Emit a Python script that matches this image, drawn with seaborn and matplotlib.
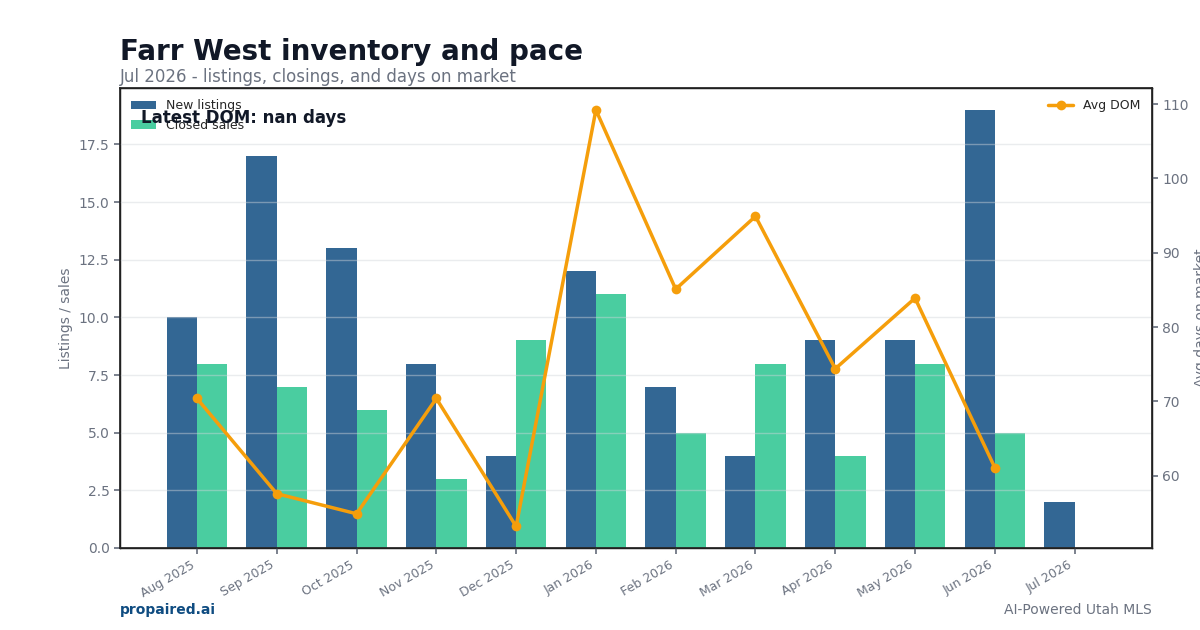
import numpy as np
import pandas as pd
import matplotlib
matplotlib.use("Agg")
import matplotlib.pyplot as plt
import seaborn as sns

months = ["Aug 2025", "Sep 2025", "Oct 2025", "Nov 2025", "Dec 2025", "Jan 2026",
          "Feb 2026", "Mar 2026", "Apr 2026", "May 2026", "Jun 2026", "Jul 2026"]
new_listings = [10, 17, 13, 8, 4, 12, 7, 4, 9, 9, 19, 2]
closed_sales = [8, 7, 6, 3, 9, 11, 5, 8, 4, 8, 5, np.nan]
avg_dom = [70.4, 57.6, 54.9, 70.4, 53.2, 109.2, 85.1, 94.9, 74.4, 83.9, 61.1, np.nan]

sns.set_theme(style="white")
plt.rcParams["font.family"] = ["DejaVu Sans"]

df = pd.DataFrame({
    "month": months * 2,
    "value": new_listings + closed_sales,
    "series": ["New listings"] * len(months) + ["Closed sales"] * len(months),
})

fig = plt.figure(figsize=(12, 6.3), dpi=100)
ax = fig.add_axes([0.1, 0.1302, 0.86, 0.7301])

sns.barplot(data=df, x="month", y="value", hue="series", order=months,
            palette={"New listings": "#336794", "Closed sales": "#4acda0"},
            width=0.76, saturation=1, ax=ax, zorder=2, linewidth=0, edgecolor="none")
ax.set_ylim(0, 19.95)
ax.set_xlim(-0.965, 11.97)
ax.yaxis.grid(True, color="#d1d5db", alpha=0.45, linewidth=1, zorder=3)
ax.set_axisbelow(False)
ax.set_xlabel("")
ax.set_ylabel("Listings / sales", color="#6b7280", fontsize=10)
ax.tick_params(axis="both", colors="#6b7280", labelsize=10, length=4, left=True, bottom=True)
plt.setp(ax.get_xticklabels(), rotation=30, ha="right", fontsize=9)
for s in ax.spines.values():
    s.set_color("black")
    s.set_linewidth(1)
ax.legend(loc="upper left", frameon=False, fontsize=9, handlelength=2, borderaxespad=0.5)

ax2 = ax.twinx()
sns.lineplot(x=np.arange(len(months)), y=avg_dom, ax=ax2, color="#f59e0b",
             linewidth=2.5, marker="o", markersize=7, markeredgewidth=0,
             label="Avg DOM")
ax2.set_ylim(50.3, 112.15)
ax2.set_yticks([60, 70, 80, 90, 100, 110])
ax2.set_ylabel("Avg days on market", color="#6b7280", fontsize=10)
ax2.tick_params(axis="y", colors="#6b7280", labelsize=10, length=4, right=True)
ax2.legend(loc="upper right", frameon=False, fontsize=9)
ax2.grid(False)

ax.text(0.02, 0.935, "Latest DOM: nan days", transform=ax.transAxes,
        fontsize=12, fontweight="bold", color="#111827", va="center", zorder=10)

fig.text(0.1, 0.918, "Farr West inventory and pace", fontsize=20, fontweight="bold",
         color="#111827", va="center", ha="left")
fig.text(0.1, 0.877, "Jul 2026 - listings, closings, and days on market", fontsize=12,
         color="#6b7280", va="center", ha="left")
fig.text(0.1, 0.032, "propaired.ai", fontsize=10, fontweight="bold", color="#0f4c81",
         va="center", ha="left")
fig.text(0.96, 0.032, "AI-Powered Utah MLS", fontsize=10, color="#6b7280",
         va="center", ha="right")

fig.savefig("out.png", dpi=100)
